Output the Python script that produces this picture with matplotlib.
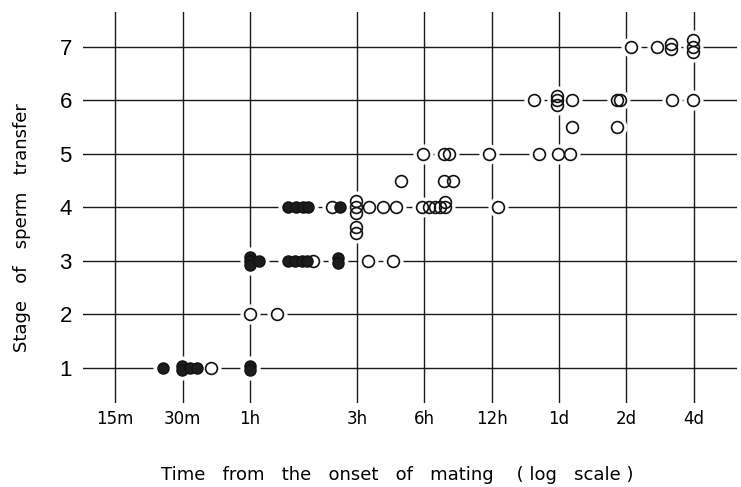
import matplotlib
matplotlib.use("Agg")
import matplotlib.pyplot as plt

# ----- DATA (time in minutes from the onset of mating) -----
filled_min = [24.6, 29.7, 29.7, 32.4, 34.7, 60, 60,
              60, 60, 60, 66, 88.7, 95.3, 102.4, 107.8, 148, 148,
              88.7, 96.3, 103.5, 109, 151]
filled_stage = [1.0, 1.04, 0.96, 1.0, 1.0, 1.04, 0.96,
                3.07, 3.0, 2.93, 3.0, 3.0, 3.0, 3.0, 3.0, 3.05, 2.95,
                4.0, 4.0, 4.0, 4.0, 4.0]

open_min = [40,
            60, 79.4,
            114.7, 202, 261,
            139, 178.5, 178.5, 178.5, 178.5, 178.5, 204, 235, 269,
            351, 378, 402, 423, 446, 446, 771,
            282, 441, 485,
            357, 441, 464, 701, 1172, 1429, 1612,
            1650, 2606,
            1117, 1415, 1415, 1415, 1650, 2606, 2696, 4589, 5693,
            3019, 3931, 4541, 4541, 5729, 5729, 5729]
open_stage = [1.0,
              2.0, 2.0,
              3.0, 3.0, 3.0,
              4.0, 4.12, 4.0, 3.9, 3.64, 3.52, 4.0, 4.0, 4.0,
              4.0, 4.0, 4.0, 4.0, 4.0, 4.1, 4.0,
              4.5, 4.5, 4.5,
              5.0, 5.0, 5.0, 5.0, 5.0, 5.0, 5.0,
              5.5, 5.5,
              6.0, 6.08, 6.0, 5.92, 6.0, 6.0, 6.0, 6.0, 6.0,
              7.0, 7.0, 7.06, 6.96, 7.12, 7.0, 6.9]

tick_min = [15, 30, 60, 180, 360, 720, 1440, 2880, 5760]
tick_labels = ["15m", "30m", "1h", "3h", "6h", "12h", "1d", "2d", "4d"]
stages = [1, 2, 3, 4, 5, 6, 7]

fig = plt.figure(figsize=(7.41, 4.87), dpi=100)
ax = fig.add_axes([0.112, 0.1725, 0.883, 0.803])
ax.set_xscale("log")
ax.set_xlim(10.77, 9000)
ax.set_ylim(0.34, 7.654)

for s in ["top", "right", "bottom", "left"]:
    ax.spines[s].set_visible(False)

# grid lines drawn as plain lines
for t in tick_min:
    ax.axvline(t, color="#1a1a1a", lw=1.0, zorder=1)
for s in stages:
    ax.axhline(s, color="#1a1a1a", lw=1.0, zorder=1)

ax.set_xticks(tick_min)
ax.set_xticklabels(tick_labels, family=["Liberation Sans Narrow", "DejaVu Sans"], fontsize=12)
ax.minorticks_off()
ax.set_yticks(stages)
ax.set_yticklabels([str(s) for s in stages], family=["Liberation Sans", "DejaVu Sans"], fontsize=16)
ax.tick_params(axis="x", length=0, pad=5)
ax.tick_params(axis="y", length=0, pad=8)

ms = 8.5
all_t = filled_min + open_min
all_s = filled_stage + open_stage
# white halo so the lines break around each circle
ax.plot(all_t, all_s, "o", ms=ms + 5, mfc="white", mec="white", zorder=3)
ax.plot(open_min, open_stage, "o", ms=ms, mfc="none", mec="#111", mew=1.2, zorder=4)
ax.plot(filled_min, filled_stage, "o", ms=ms - 0.5, mfc="#1c1c1c", mec="#111", mew=1.0, zorder=5)

fig.text(397 / 741, 1 - 475 / 487, "Time   from   the   onset   of   mating    ( log   scale )",
         ha="center", va="center", fontsize=13, family=["DejaVu Sans"])
fig.text(22 / 741, 1 - 228 / 487, "Stage   of   sperm   transfer", rotation=90,
         ha="center", va="center", fontsize=13, family=["DejaVu Sans"])

fig.savefig("out.png", dpi=100)
